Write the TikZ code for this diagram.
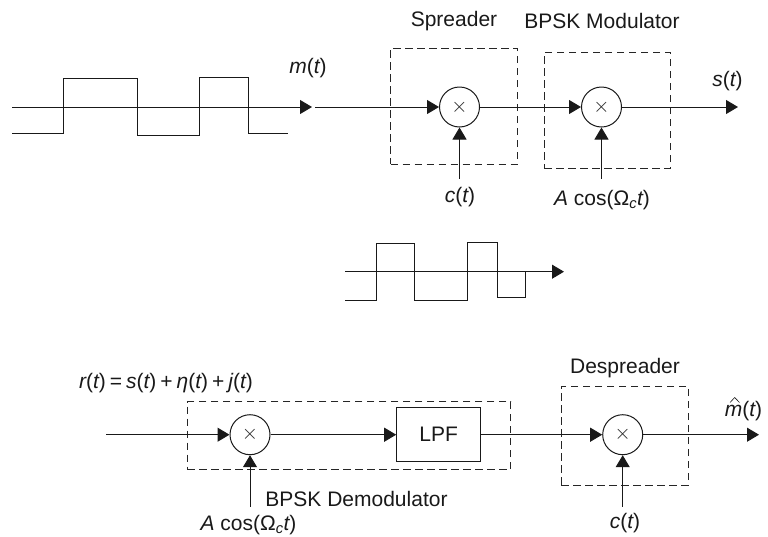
\documentclass[tikz,border=0pt]{standalone}
\usepackage{fontspec}
\setmainfont{Liberation Sans}
\usetikzlibrary{arrows.meta}
\tikzset{
  base/.style={line width=1pt,draw=black!90},
  sig/.style={base,-{Triangle[length=12pt,width=14pt,color=black!90]}},
  wave/.style={base,line join=miter},
  dashbox/.style={line width=1pt,draw=black!85,dash pattern=on 7.5pt off 4.5pt},
  mult/.style={base,circle,minimum size=40pt,inner sep=0pt,fill=white,text=black!85,font=\fontsize{20}{20}\selectfont},
  lpfbox/.style={base,rectangle,minimum width=84pt,minimum height=54pt,inner sep=0pt,fill=white},
  lab/.style={inner sep=0pt,text=black!90,font=\fontsize{21}{25}\selectfont},
  mathlab/.style={lab,font=\fontsize{21}{25}\selectfont\itshape},
  hatmark/.style={line width=0.6pt,draw=black!90},
}
\newcommand{\upp}[1]{{\upshape #1}}
\begin{document}
\begin{tikzpicture}[x=1pt,y=-1pt]
\useasboundingbox (0,0) rectangle (768,536);
% dashed boxes
\node[dashbox,minimum width=127pt,minimum height=116pt,inner sep=0pt] (spread) at (454,106) {};
\node[dashbox,minimum width=126pt,minimum height=116pt,inner sep=0pt] (modbox) at (607,110) {};
\node[dashbox,minimum width=323.5pt,minimum height=68pt,inner sep=0pt] (demod) at (349,435.7) {};
\node[dashbox,minimum width=127pt,minimum height=99pt,inner sep=0pt] (desp) at (624.7,435.5) {};
% blocks
\node[mult] (m1) at (459.5,107) {$\times$};
\node[mult] (m2) at (601.5,107) {$\times$};
\node[mult] (m3) at (250,434.7) {$\times$};
\node[mult] (m4) at (622.7,434.7) {$\times$};
\node[lpfbox,lab] (lpf) at (438.7,434.7) {LPF};
% free ends
\coordinate (a0) at (12,107);
\coordinate (a1) at (312,107);
\coordinate (b0) at (315,107);
\coordinate (out1) at (738,107);
\coordinate (c1) at (459.5,178.5);
\coordinate (c2) at (601.5,178.5);
\coordinate (d0) at (345,271.7);
\coordinate (d1) at (564,271.7);
\coordinate (e0) at (106,434.7);
\coordinate (out2) at (759,434.7);
\coordinate (c3) at (250,506.7);
\coordinate (c4) at (622.7,506.7);
% waveforms
\draw[wave] (12,133.3)-|(63.5,78.7)-|(137,135)-|(199.3,77)-|(248,133.3)--(288,133.3);
\draw[wave] (345,300)-|(376.7,243.7)-|(414.5,300)-|(467.5,242.3)-|(497,297)-|(525,271.7);
% connectors
\draw[sig] (a0)--(a1);
\draw[sig] (b0)--(m1);
\draw[sig] (m1)--(m2);
\draw[sig] (m2)--(out1);
\draw[sig] (c1)--(m1);
\draw[sig] (c2)--(m2);
\draw[sig] (d0)--(d1);
\draw[sig] (e0)--(m3);
\draw[sig] (m3)--(lpf);
\draw[sig] (lpf)--(m4);
\draw[sig] (m4)--(out2);
\draw[sig] (c3)--(m3);
\draw[sig] (c4)--(m4);
% labels
\node[lab] (t1) at (454,21) {Spreader};
\node[lab] (t2) at (602,21) {BPSK Modulator};
\node[mathlab] (t3) at (308,68) {m\upp{(}t\upp{)}};
\node[mathlab] (t4) at (727.5,81) {s\upp{(}t\upp{)}};
\node[mathlab] (t5) at (460,197) {c\upp{(}t\upp{)}};
\node[mathlab] (t6) at (602,200) {A \upp{cos(Ω}\textsubscript{c}t\upp{)}};
\node[mathlab] (t7) at (166,383) {r\upp{(}t\upp{)}\kern4pt\upp{=}\kern4pt s\upp{(}t\upp{)}\kern4pt\upp{+}\kern4pt η\upp{(}t\upp{)}\kern4pt\upp{+}\kern4pt j\upp{(}t\upp{)}};
\node[lab] (t8) at (356.5,499) {BPSK Demodulator};
\node[mathlab] (t9) at (248.5,525) {A \upp{cos(Ω}\textsubscript{c}t\upp{)}};
\node[lab] (t10) at (625,368) {Despreader};
\node[mathlab] (t11) at (743.5,411) {m\upp{(}t\upp{)}};
\draw[hatmark] (730,402.5)--(734.7,397.5)--(739.5,402.5);
\node[mathlab] (t12) at (625,523) {c\upp{(}t\upp{)}};
\end{tikzpicture}
\end{document}
